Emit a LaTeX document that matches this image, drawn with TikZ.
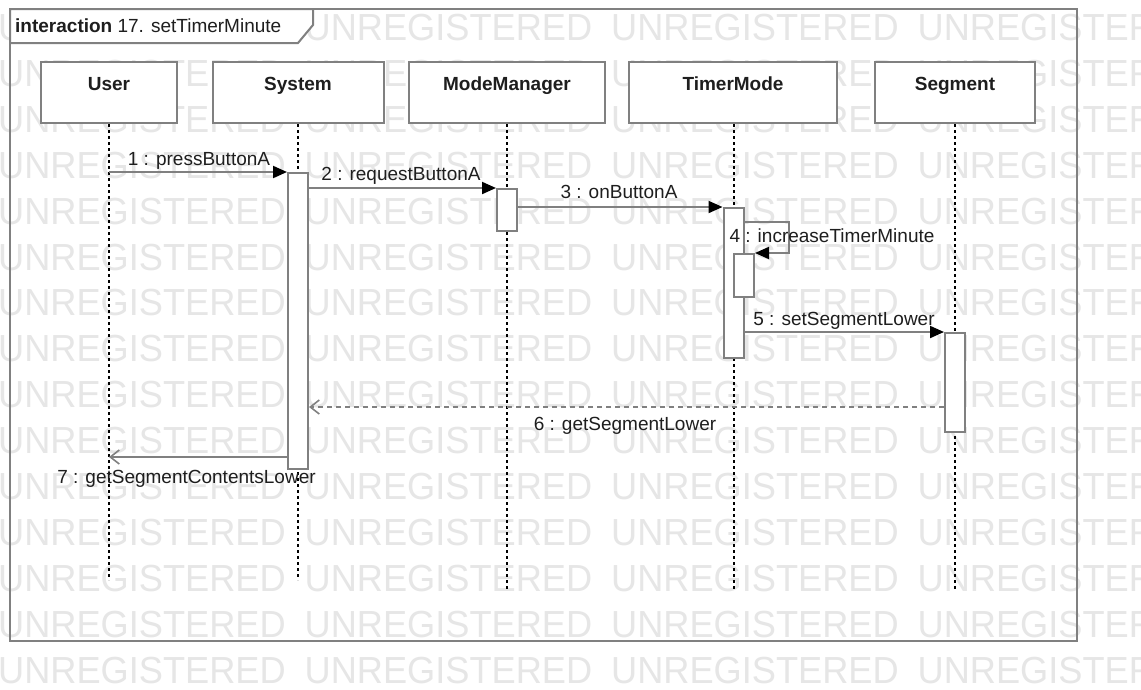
\documentclass[tikz,border=0pt]{standalone}
\usepackage{fontspec}
\setmainfont{Liberation Sans}
\usetikzlibrary{arrows.meta}
\definecolor{edge}{HTML}{808080}
\definecolor{wmark}{HTML}{E6E6E6}
\definecolor{ink}{HTML}{1E1E1E}
\begin{document}
\begin{tikzpicture}[x=1pt,y=-1pt,
  wm/.style={text=wmark,font=\fontsize{37.7}{40}\selectfont,anchor=base west,inner sep=0pt},
  head/.style={draw=edge,line width=2pt,fill=white,inner sep=0pt,minimum height=61pt},
  headlbl/.style={anchor=base,font=\fontsize{19}{22}\selectfont\bfseries,text=ink,inner sep=0pt},
  bar/.style={draw=edge,line width=2pt,fill=white,inner sep=0pt,minimum width=20pt},
  lifeline/.style={draw=black,line width=1.2pt,dash pattern=on 3pt off 3pt},
  msg/.style={draw=edge,line width=2pt,-{Triangle[length=14pt,width=12pt,color=black]}},
  msgopen/.style={draw=edge,line width=1.6pt,-{Straight Barb[length=9pt,width=14pt]}},
  ret/.style={draw=edge,line width=1.6pt,dash pattern=on 5pt off 4pt,-{Straight Barb[length=9pt,width=14pt]}},
  mlbl/.style={anchor=base,font=\fontsize{19}{22}\selectfont,text=ink,inner sep=0pt}]
\useasboundingbox (0,0) rectangle (1141,689);
\fill[white] (0,0) rectangle (1141,689);
% watermark
\foreach \k in {0,...,14}{
  \foreach \j in {0,...,3}{
    \node[wm] (wm-\k-\j) at ({306.5*\j-2},{40.5+45.9*\k}) {\scalebox{0.96}[1]{UNREGISTERED}};
  }
}
% frame
\draw[edge,line width=2pt] (10,9) rectangle (1077,641);
\draw[edge,line width=2pt,fill=white] (10,9) -- (313,9) -- (313,25) -- (298,43) -- (10,43) -- cycle;
\node[anchor=base west,inner sep=0pt,font=\fontsize{19}{22}\selectfont,text=ink] (title) at (15,32) {\textbf{interaction} 17. setTimerMinute};
% lifeline heads
\node[head,minimum width=136pt] (user) at (109,92.5) {};
\node[head,minimum width=171pt] (system) at (298,92.5) {};
\node[head,minimum width=196pt] (mm) at (507,92.5) {};
\node[head,minimum width=208pt] (timer) at (733,92.5) {};
\node[head,minimum width=160pt] (seg) at (955,92.5) {};
\node[headlbl] (userl) at (109,90) {User};
\node[headlbl] (systeml) at (298,90) {System};
\node[headlbl] (mml) at (507,90) {ModeManager};
\node[headlbl] (timerl) at (733,90) {TimerMode};
\node[headlbl] (segl) at (955,90) {Segment};
% lifelines
\coordinate (userend) at (109,580);
\coordinate (systemend) at (298,580);
\coordinate (mmend) at (507,591);
\coordinate (timerend) at (734,591);
\coordinate (segend) at (955,591);
\draw[lifeline] (user.south) -- (userend);
\draw[lifeline] (system.south) -- (systemend);
\draw[lifeline] (mm.south) -- (mmend);
\draw[lifeline] (timer.south -| timerend) -- (timerend);
\draw[lifeline] (seg.south) -- (segend);
% activation bars
\node[bar,minimum height=296pt] (sysbar) at (298,321) {};
\node[bar,minimum height=42pt] (mmbar) at (507,210) {};
\node[bar,minimum height=150pt] (timerbar) at (733.5,283) {};
\node[bar,minimum height=43pt] (nestbar) at (744,275.5) {};
\node[bar,minimum height=99pt] (segbar) at (955,382.5) {};
% messages
\draw[msg] (user.south |- sysbar.north) -- (sysbar.north west);
\node[mlbl] (l1) at (199,165) {1 : pressButtonA};
\draw[msg] (sysbar.east |- mmbar.north) -- (mmbar.north west);
\node[mlbl] (l2) at (401,180) {2 : requestButtonA};
\draw[msg] (mmbar.east |- timerbar.north) -- (timerbar.north west);
\node[mlbl] (l3) at (619,198) {3 : onButtonA};
\draw[msg] (timerbar.east |- 0,222) -- (789,222) |- (nestbar.north east);
\node[mlbl] (l4) at (832,242) {4 : increaseTimerMinute};
\draw[msg] (timerbar.east |- segbar.north) -- (segbar.north west);
\node[mlbl] (l5) at (844,325) {5 : setSegmentLower};
\draw[ret] (segbar.west |- 0,407) -- (sysbar.east |- 0,407);
\node[mlbl] (l6) at (625,430) {6 : getSegmentLower};
\draw[msgopen] (sysbar.west |- 0,457) -- (user.south |- 0,457);
\node[mlbl] (l7) at (186.5,483) {7 : getSegmentContentsLower};
\end{tikzpicture}
\end{document}
